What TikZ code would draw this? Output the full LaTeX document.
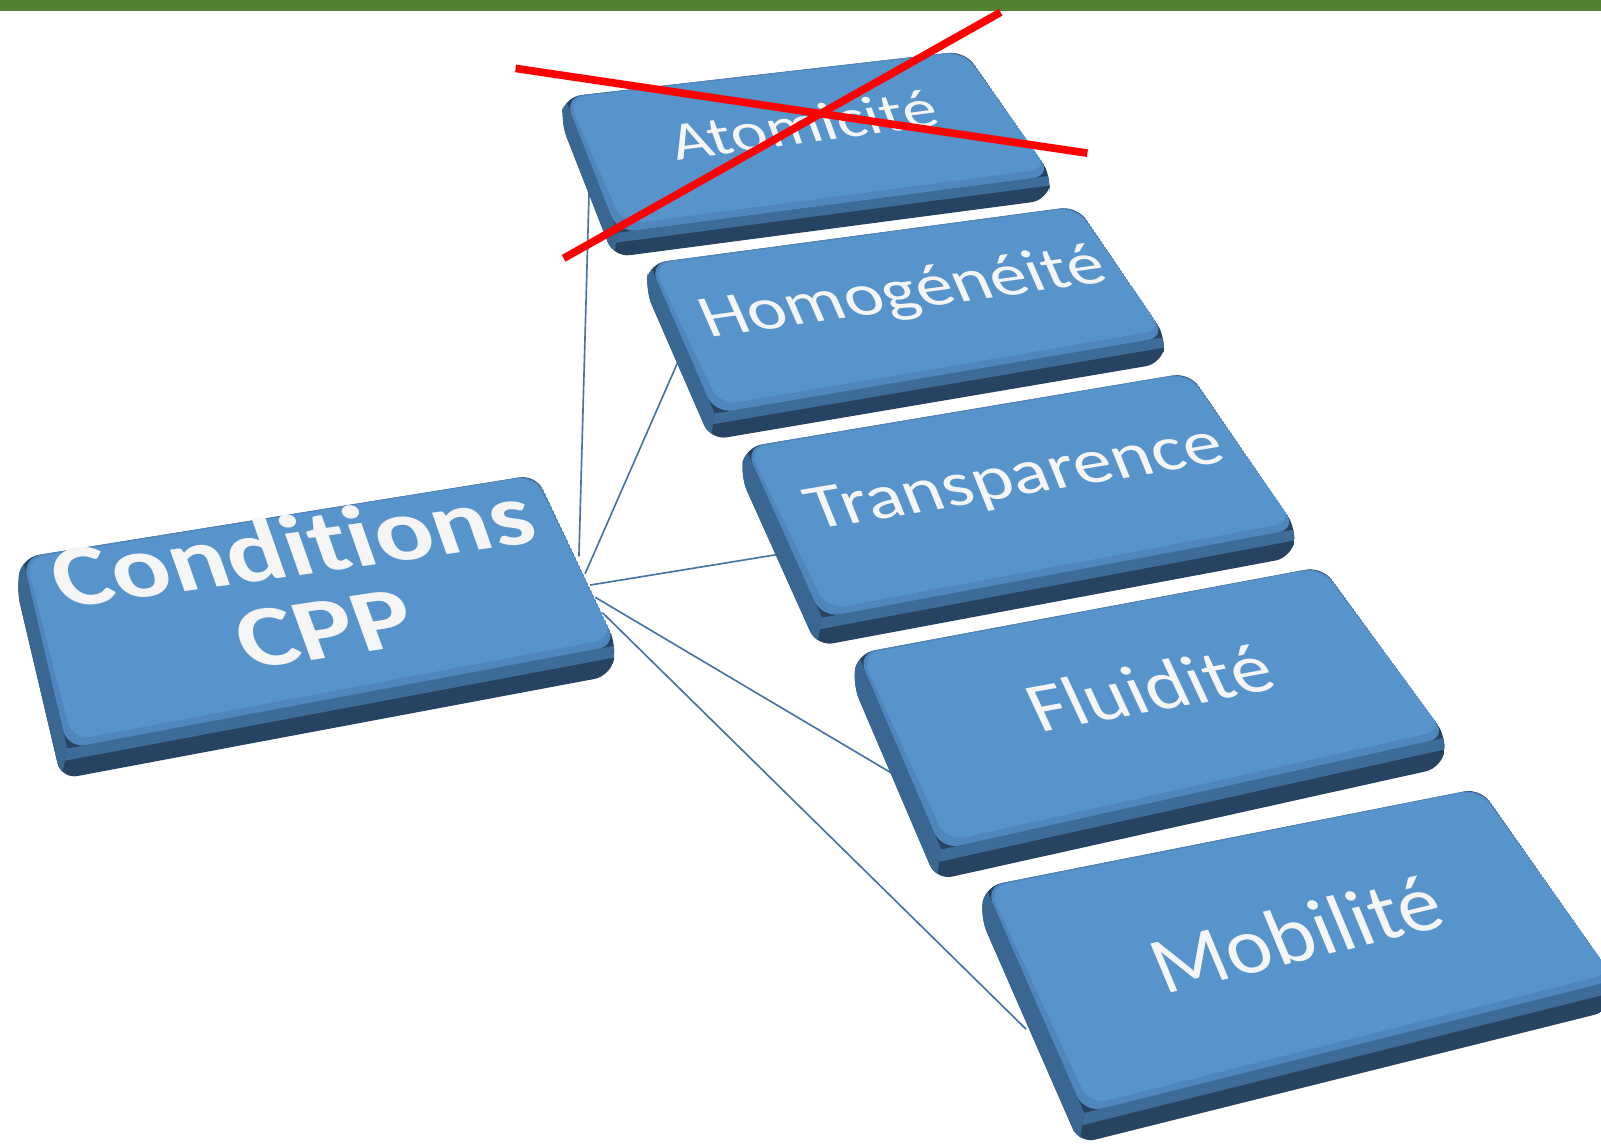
\documentclass[tikz,border=0pt]{standalone}
\usepackage{fontspec}
\setmainfont{Carlito}[Ligatures=NoCommon]
\usetikzlibrary{calc}
\definecolor{topc}{HTML}{5894CC}
\definecolor{sidec}{HTML}{3A6792}
\definecolor{darkc}{HTML}{264461}
\definecolor{midc}{HTML}{3E6C98}
\definecolor{bevc}{HTML}{4E86BD}
\definecolor{linkc}{HTML}{4672A6}
\definecolor{barc}{HTML}{548235}
\definecolor{txtc}{HTML}{F5F5F5}
\tikzset{
  link/.style={draw=linkc, line width=1.6pt},
  cross/.style={draw=red, line width=7.5pt},
  lbltxt/.style={anchor=base, inner sep=0pt, text=txtc},
}
% block: name, A(TL), B(TR), C(BR), D(BL), thickness vector
\newcommand\blk[6]{%
  \coordinate (#1A) at (#2);
  \coordinate (#1B) at (#3);
  \coordinate (#1C) at (#4);
  \coordinate (#1D) at (#5);
  \coordinate (#1T) at (#6);
  \coordinate (#1C2) at ($(#1C)+(#1T)$);
  \coordinate (#1D2) at ($(#1D)+(#1T)$);
  \coordinate (#1A2) at ($(#1A)+(#1T)$);
  \coordinate (#1C3) at ($(#1C)+0.4*(#1T)$);
  \coordinate (#1D3) at ($(#1D)+0.4*(#1T)$);
  \begin{scope}
    \clip[rounded corners=16pt] (#1A) -- (#1B) -- (#1C) -- (#1C2) -- (#1D2) -- (#1A2) -- cycle;
    \fill[darkc] (#1A) -- (#1B) -- (#1C) -- (#1C2) -- (#1D2) -- (#1A2) -- cycle;
    \fill[sidec] (#1A) -- (#1D) -- (#1D2) -- (#1A2) -- cycle;
    \fill[midc] (#1D) -- (#1C) -- (#1C3) -- (#1D3) -- cycle;
    \fill[bevc, rounded corners=18pt] (#1A) -- (#1B) -- (#1C) -- (#1D) -- cycle;
    \fill[topc, rounded corners=18pt] ($(#1A)+(3,1)$) -- ($(#1B)+(-2,1)$) -- ($(#1C)+(-3,-7)$) -- ($(#1D)+(5,-8)$) -- cycle;
  \end{scope}
}
% label: name, base position, angle, size, slant, yscale, text
\newcommand\lbl[7]{%
  \node[lbltxt, font={\fontsize{#4}{#4}\selectfont}, rotate=#3, xslant=#5, yscale=#6] (#1) at (#2) {#7};
}
\begin{document}
\begin{tikzpicture}[x=1pt, y=-1pt]
\useasboundingbox (0,0) rectangle (1568,1121);
\fill[white] (0,0) rectangle (1568,1121);
\fill[barc] (0,0) rectangle (1568,11);

% connector end points
\coordinate (s1) at (567,545);
\coordinate (s2) at (573,562);
\coordinate (s3) at (578,573);
\coordinate (s4) at (583,585);
\coordinate (s5) at (590,600);
\coordinate (e1) at (577,185);
\coordinate (e2) at (665,352);
\coordinate (e3) at (762,543);
\coordinate (e4) at (878,760);
\coordinate (e5) at (1005,1008);
\draw[link] (s1) -- (e1);
\draw[link] (s2) -- (e2);
\draw[link] (s3) -- (e3);
\draw[link] (s4) -- (e4);
\draw[link] (s5) -- (e5);

% blocks
\blk{cpp}{22,546}{525,465}{604,632}{66,733}{-6,30}
\blk{ato}{553,95}{945,50}{1030,172}{605,228}{-4,24}
\blk{hom}{636,258}{1055,202}{1142,330}{700,405}{-4,26}
\blk{tra}{730,438}{1165,365}{1270,518}{805,605}{-5,28}
\blk{flu}{840,640}{1295,555}{1417,722}{922,832}{-5,30}
\blk{mob}{965,868}{1450,772}{1582,960}{1062,1090}{-5,30}

% labels
\lbl{tcond}{296,563}{8}{106}{-0.2}{0.82}{\bfseries Condit\kern0pt ions}
\lbl{tcpp}{328,643}{8.7}{108}{-0.2}{0.8}{\bfseries CPP}
\lbl{tato}{793,140}{7.5}{67}{-0.22}{0.8}{Atomicité}
\lbl{thom}{891,303}{8}{72}{-0.28}{0.82}{Homogénéité}
\lbl{ttra}{1001,485}{9.5}{75.4}{-0.22}{0.83}{Transparence}
\lbl{tflu}{1136,696}{10.4}{79}{-0.26}{0.88}{Fluidité}
\lbl{tmob}{1280,940}{13.6}{84}{-0.16}{0.95}{Mobilité}

% red cross
\coordinate (x1a) at (505,67);
\coordinate (x1b) at (1065,150);
\coordinate (x2a) at (552,253);
\coordinate (x2b) at (980,12);
\draw[cross] (x1a) -- (x1b);
\draw[cross] (x2a) -- (x2b);
\end{tikzpicture}
\end{document}
